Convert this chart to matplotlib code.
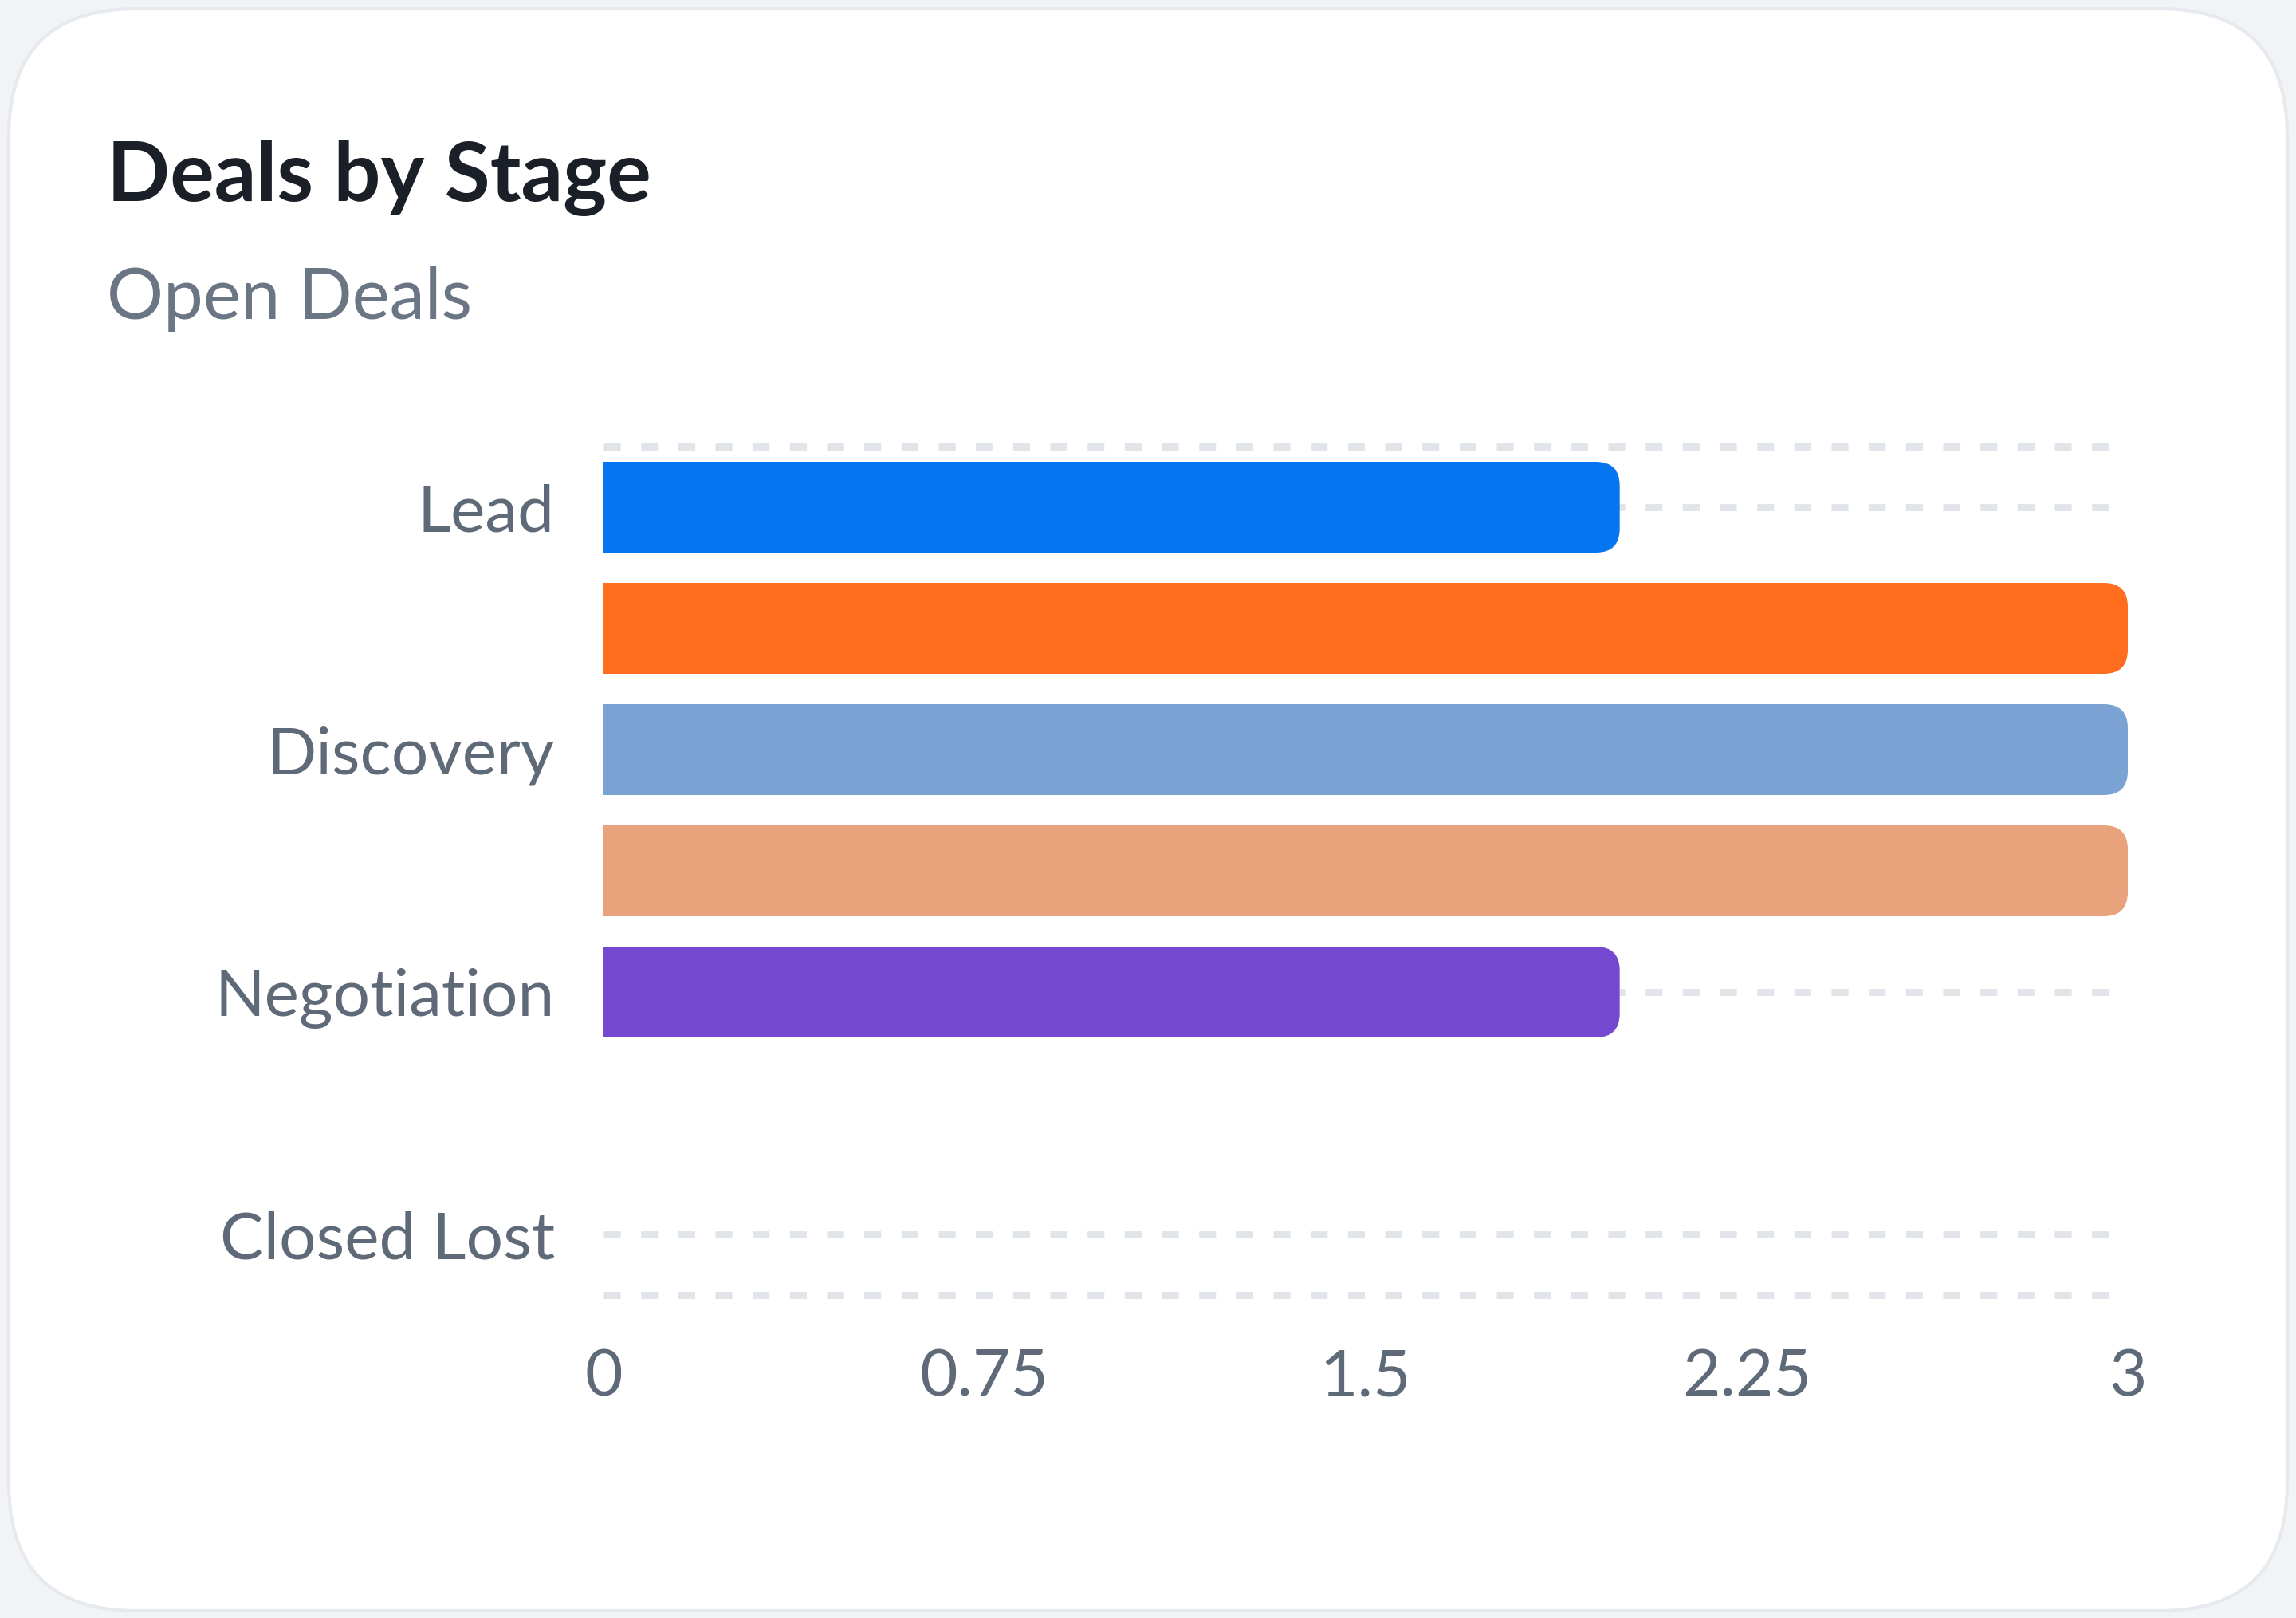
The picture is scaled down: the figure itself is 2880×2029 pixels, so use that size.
import matplotlib
matplotlib.use("Agg")
import matplotlib.pyplot as plt
from matplotlib.patches import FancyBboxPatch, Rectangle

# Data
stages = ["Lead", "Qualified", "Discovery", "Proposal", "Negotiation", "Closed Won", "Closed Lost"]
deals = [2, 3, 3, 3, 2, 0, 0]
colors = ["#0575f0", "#ff6d1f", "#7aa3d3", "#e8a37d", "#7449d0", "#0575f0", "#ff6d1f"]
xticks = [0, 0.75, 1.5, 2.25, 3]
xtick_labels = ["0", "0.75", "1.5", "2.25", "3"]

W, H, DPI = 2880, 2029, 200
plt.rcParams["font.family"] = ["Lato", "DejaVu Sans"]
plt.rcParams["lines.scale_dashes"] = False

fig = plt.figure(figsize=(W / DPI, H / DPI), dpi=DPI, facecolor="#f1f3f5")

# card background
card = FancyBboxPatch((11, 9), W - 22, H - 20, boxstyle="round,pad=0,rounding_size=160",
                      transform=None, facecolor="#ffffff", edgecolor="#e6e9ed",
                      linewidth=1.5, zorder=-5)
fig.patches.append(card)

fig.text(134 / W, 1 - 252 / H, "Deals by Stage", fontsize=37.5, fontweight="bold",
         color="#1b1f27", va="baseline", ha="left")
fig.text(134 / W, 1 - 400 / H, "Open Deals", fontsize=32, color="#6b7684",
         va="baseline", ha="left")

left, right, top, bottom = 757, 2669, 560, 1624
ax = fig.add_axes([left / W, 1 - bottom / H, (right - left) / W, (bottom - top) / H])
ax.set_facecolor("none")
n = len(stages)
ax.set_xlim(0, 3)
ax.set_ylim(n - 0.5, -0.5)

# dashed grid at labelled rows and at the edges
grid_rows = [-0.5] + list(range(0, n, 2)) + [n - 0.5]
for gy in grid_rows:
    ax.plot([0, 2.975], [gy, gy], color="#e1e4e8", linewidth=3.2,
            linestyle=(0, (7.6, 9.2)), zorder=0, clip_on=False)

# bars with rounded right corners
bar_h = 0.75
bars = ax.barh(range(n), deals, height=bar_h, color=colors, linewidth=0)
xpp = 3 / (right - left)
ypp = n / (bottom - top)
r_px = 30
for b, c in zip(bars, colors):
    x0, y0, w, h = b.get_x(), b.get_y(), b.get_width(), b.get_height()
    b.set_visible(False)
    if w <= 0:
        continue
    rr = r_px * xpp
    fb = FancyBboxPatch((x0, y0), w, h, boxstyle=f"round,pad=0,rounding_size={rr}",
                        mutation_aspect=ypp / xpp, facecolor=c, linewidth=0,
                        zorder=2, clip_on=False)
    ax.add_patch(fb)
    ax.add_patch(Rectangle((x0, y0), w - 2 * rr, h, facecolor=c, linewidth=0,
                           zorder=2, clip_on=False))

ax.set_yticks(range(0, n, 2))
ax.set_yticklabels(stages[::2])
ax.set_xticks(xticks)
ax.set_xticklabels(xtick_labels)
ax.tick_params(axis="y", length=0, pad=22, labelsize=29.5, labelcolor="#5f6a79")
ax.tick_params(axis="x", length=0, pad=24, labelsize=29.5, labelcolor="#5f6a79")
for s in ax.spines.values():
    s.set_visible(False)

fig.savefig("out.png", dpi=DPI, facecolor=fig.get_facecolor())
